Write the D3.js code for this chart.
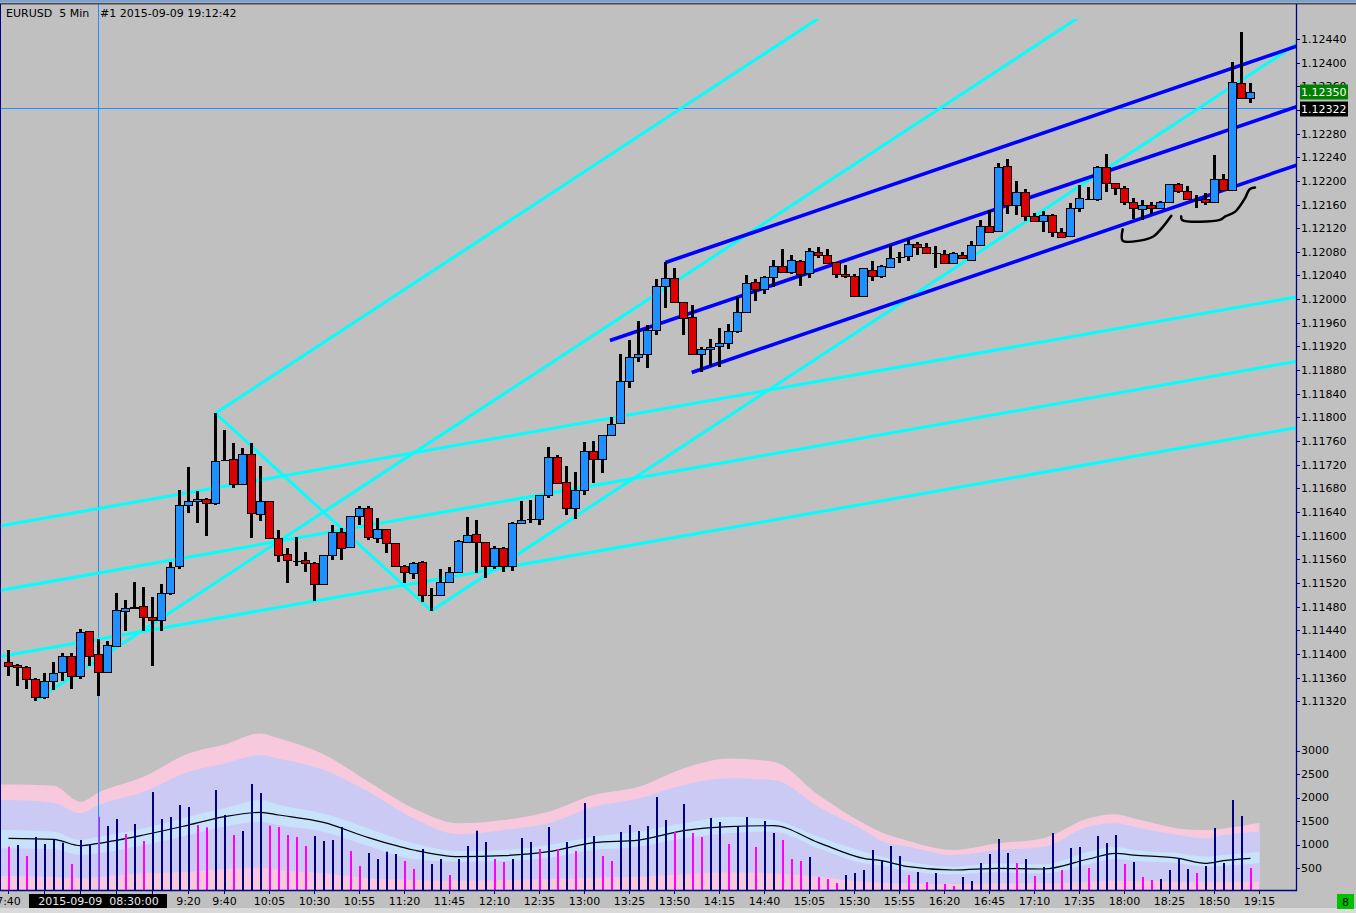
<!DOCTYPE html>
<html>
<head>
<meta charset="utf-8">
<script src="https://cdn.jsdelivr.net/npm/d3@7"></script>
<style>
body { margin: 0; background: #c0c0c0; }
svg { display: block; font-family: "DejaVu Sans", sans-serif; font-size: 11px; }
</style>
</head>
<body>
<svg id="chart" width="1356" height="913"></svg>
<script>
// EURUSD M5, 2015-09-09, bar 0 = 07:40, bar 138 = 19:10
var open = [1.11386,1.11382,1.11377,1.11358,1.11327,1.11355,1.11369,1.11396,1.11363,1.11438,
 1.11399,1.11369,1.11414,1.11472,1.11478,1.11481,1.11462,1.11457,1.11503,1.11548,
 1.11651,1.11658,1.11662,1.11656,1.11728,1.11729,1.11687,1.11738,1.11637,1.11658,
 1.11596,1.11569,1.11557,1.11558,1.11554,1.11518,1.11567,1.11607,1.11580,1.11633,
 1.11646,1.11596,1.11611,1.11587,1.11548,1.11536,1.11555,1.11500,1.11499,1.11522,
 1.11539,1.11590,1.11602,1.11589,1.11548,1.11579,1.11548,1.11621,1.11629,1.11628,
 1.11668,1.11733,1.11690,1.11646,1.11678,1.11744,1.11729,1.11770,1.11790,1.11861,
 1.11902,1.11908,1.11947,1.12022,1.12035,1.11995,1.11969,1.11907,1.11915,1.11920,
 1.11925,1.11946,1.11978,1.12029,1.12018,1.12037,1.12056,1.12046,1.12064,1.12044,
 1.12079,1.12074,1.12062,1.12043,1.12039,1.12005,1.12050,1.12039,1.12054,1.12071,
 1.12073,1.12093,1.12088,1.12078,1.12076,1.12061,1.12074,1.12067,1.12091,1.12123,
 1.12116,1.12225,1.12159,1.12181,1.12140,1.12133,1.12142,1.12113,1.12106,1.12154,
 1.12170,1.12169,1.12223,1.12196,1.12188,1.12165,1.12152,1.12160,1.12154,1.12165,
 1.12194,1.12183,1.12168,1.12169,1.12164,1.12203,1.12185,1.12365,1.12341];
var high = [1.11407,1.11383,1.11380,1.11359,1.11367,1.11386,1.11401,1.11401,1.11442,1.11439,
 1.11426,1.11421,1.11503,1.11491,1.11522,1.11513,1.11496,1.11518,1.11555,1.11678,
 1.11716,1.11676,1.11664,1.11807,1.11779,1.11757,1.11748,1.11757,1.11718,1.11659,
 1.11610,1.11579,1.11598,1.11572,1.11555,1.11567,1.11618,1.11613,1.11634,1.11650,
 1.11650,1.11630,1.11612,1.11588,1.11550,1.11556,1.11557,1.11511,1.11544,1.11547,
 1.11592,1.11632,1.11627,1.11590,1.11583,1.11580,1.11623,1.11659,1.11660,1.11669,
 1.11750,1.11737,1.11718,1.11708,1.11758,1.11760,1.11771,1.11801,1.11907,1.11931,
 1.11963,1.11956,1.12034,1.12062,1.12052,1.11996,1.11990,1.11919,1.11933,1.11951,
 1.11958,1.12003,1.12041,1.12034,1.12039,1.12066,1.12085,1.12075,1.12066,1.12086,
 1.12088,1.12085,1.12063,1.12058,1.12043,1.12053,1.12065,1.12058,1.12092,1.12080,
 1.12102,1.12096,1.12095,1.12090,1.12083,1.12079,1.12079,1.12098,1.12134,1.12151,
 1.12230,1.12237,1.12199,1.12186,1.12145,1.12149,1.12144,1.12120,1.12162,1.12193,
 1.12190,1.12225,1.12245,1.12197,1.12192,1.12171,1.12168,1.12165,1.12166,1.12195,
 1.12196,1.12192,1.12176,1.12179,1.12244,1.12212,1.12401,1.12451,1.12365];
var low = [1.11362,1.11345,1.11341,1.11321,1.11324,1.11339,1.11354,1.11340,1.11357,1.11380,
 1.11329,1.11368,1.11412,1.11438,1.11476,1.11438,1.11380,1.11439,1.11499,1.11544,
 1.11639,1.11622,1.11600,1.11652,1.11726,1.11680,1.11686,1.11596,1.11624,1.11595,
 1.11556,1.11520,1.11549,1.11539,1.11490,1.11517,1.11558,1.11559,1.11579,1.11618,
 1.11592,1.11588,1.11571,1.11547,1.11520,1.11527,1.11487,1.11473,1.11498,1.11521,
 1.11537,1.11589,1.11537,1.11528,1.11543,1.11539,1.11541,1.11620,1.11622,1.11618,
 1.11663,1.11688,1.11635,1.11629,1.11669,1.11689,1.11706,1.11769,1.11789,1.11849,
 1.11893,1.11883,1.11939,1.11985,1.11994,1.11939,1.11906,1.11877,1.11887,1.11886,
 1.11916,1.11942,1.11977,1.11997,1.12009,1.12021,1.12045,1.12043,1.12023,1.12036,
 1.12069,1.12060,1.12036,1.12035,1.12004,1.12004,1.12030,1.12035,1.12052,1.12061,
 1.12065,1.12075,1.12077,1.12052,1.12060,1.12059,1.12068,1.12066,1.12090,1.12112,
 1.12115,1.12144,1.12142,1.12132,1.12131,1.12114,1.12105,1.12104,1.12105,1.12147,
 1.12169,1.12166,1.12181,1.12176,1.12160,1.12136,1.12134,1.12144,1.12153,1.12164,
 1.12179,1.12168,1.12155,1.12159,1.12163,1.12184,1.12184,1.12340,1.12332];
var close = [1.11380,1.11377,1.11358,1.11327,1.11355,1.11367,1.11396,1.11362,1.11437,1.11397,
 1.11369,1.11415,1.11474,1.11477,1.11480,1.11462,1.11457,1.11503,1.11547,1.11651,
 1.11658,1.11662,1.11655,1.11726,1.11728,1.11687,1.11738,1.11638,1.11658,1.11596,
 1.11567,1.11558,1.11557,1.11553,1.11518,1.11567,1.11607,1.11579,1.11633,1.11646,
 1.11597,1.11611,1.11587,1.11548,1.11538,1.11554,1.11499,1.11500,1.11522,1.11539,
 1.11591,1.11601,1.11590,1.11548,1.11579,1.11548,1.11621,1.11626,1.11629,1.11668,
 1.11733,1.11689,1.11646,1.11678,1.11744,1.11729,1.11770,1.11789,1.11861,1.11902,
 1.11908,1.11947,1.12022,1.12035,1.11995,1.11968,1.11907,1.11915,1.11919,1.11925,
 1.11946,1.11978,1.12027,1.12018,1.12037,1.12056,1.12046,1.12066,1.12042,1.12081,
 1.12074,1.12061,1.12043,1.12039,1.12006,1.12052,1.12039,1.12056,1.12069,1.12071,
 1.12093,1.12089,1.12078,1.12078,1.12061,1.12078,1.12069,1.12091,1.12123,1.12113,
 1.12223,1.12159,1.12181,1.12140,1.12132,1.12142,1.12113,1.12105,1.12155,1.12171,
 1.12170,1.12223,1.12196,1.12188,1.12164,1.12154,1.12160,1.12155,1.12165,1.12194,
 1.12183,1.12169,1.12168,1.12164,1.12203,1.12185,1.12367,1.12341,1.12350];

var volume = [954,989,755,1159,1010,1110,1039,585,1095,1010,
 1592,1393,1542,1223,1436,1074,2116,1542,1585,1840,
 1797,1414,1365,2159,1627,1202,1287,2287,2095,1400,
 1372,1202,1159,968,1180,1074,1095,1372,861,542,
 819,691,847,798,649,479,904,585,691,351,
 691,968,1294,1053,691,627,691,1138,1053,904,
 1372,904,1053,861,1882,1180,755,649,1266,1414,
 1287,1393,2010,1521,1266,1861,1244,1159,1563,1478,
 1010,1393,1585,947,1500,1244,1095,691,649,734,
 308,266,181,351,393,457,883,663,968,755,
 351,415,202,393,160,117,308,223,606,798,
 1117,819,606,691,330,521,1244,457,925,947,
 500,1180,1032,1202,585,627,308,245,266,457,
 713,479,393,542,1351,606,1946,1606,500];
// n = navy bar, m = magenta bar
var volColor = ("mnmnnnnmnn" + "mnnmnmnnnn" + "nmmnnmnnnm" + "mmmmnnnnmm" + "nnnnmmnnnm" +
 "nnnnmmnnnm" + "nmnmnnmmnn" + "nnnnmnmmnn" + "mnnmnnmmmn" + "mmmnnnnnnn" +
 "mnmnmmnnnn" + "nnmnmnnmnn" + "mnnnmnmmnn" + "nnmnnnnnm").split("");

// volume band indicator, sampled by bar index
var bandIdx = [-1,0,5,8,10,15,20,24,28,30,35,40,45,50,55,60,65,70,75,80,85,90,95,97,100,105,110,115,120,123,125,130,133,135,139];
var bandOuterUp = [2279,2279,2251,1911,2109,2442,2938,3130,3364,3258,2918,2336,1769,1450,1521,1698,2052,2230,2619,2832,2761,2052,1450,1258,1074,883,1024,1131,1556,1641,1556,1343,1308,1343,1464];
var bandMidUp = [1946,1946,1890,1663,1840,2122,2548,2726,2903,2832,2584,2122,1556,1216,1308,1450,1804,1981,2265,2407,2372,1804,1308,1074,954,776,883,954,1379,1450,1379,1202,1131,1202,1273];
var bandInnerUp = [1308,1308,1273,1095,1166,1343,1592,1769,1946,1840,1662,1343,1024,861,883,989,1166,1273,1450,1592,1521,1166,847,741,635,528,599,578,847,954,883,812,741,776,847];
var bandInnerLo = [918,918,897,776,812,989,1202,1379,1485,1414,1273,968,691,635,649,720,883,954,1131,1237,1273,918,599,549,436,365,408,386,578,691,656,599,528,549,599];
var bandMidLo = [330,330,316,280,308,386,422,479,507,457,386,280,245,230,245,266,294,316,365,408,386,316,209,188,174,152,174,174,209,230,223,209,195,209,209];
var maIdx = [0,5,8,10,15,20,24,28,30,35,40,45,50,55,60,65,70,75,80,85,90,95,97,100,105,110,115,120,123,125,130,133,135,138];
var maVal = [1131,1110,975,1025,1202,1414,1592,1684,1627,1471,1145,883,741,762,847,1039,1095,1294,1379,1400,1039,705,656,528,457,493,479,691,812,776,705,599,656,705];

// drawn objects: [bar index, price]
var forkP0 = [3, 1.11321], forkP1 = [23, 1.11807], forkP2 = [47, 1.11473];
var flatLines = [[[0, 1.11619], [138, 1.11990]], [[0, 1.11510], [138, 1.11881]], [[0, 1.11398], [138, 1.11769]]];
var channelLines = [[[73, 1.12062], [138, 1.12401]], [[66.83, 1.11930], [138, 1.12299]], [[75.91, 1.11876], [138, 1.12200]]];
var handCurves = [
 [[123.8,1.12118],[123.8,1.12099],[125.7,1.12099],[127.2,1.12106],[128.3,1.12123],[129.2,1.12141]],
 [[130.3,1.12140],[130.4,1.12134],[134.6,1.12134],[135.2,1.12140],[136.3,1.12148],[137.4,1.12171],[137.9,1.12186],[138.5,1.12189]]
];

var priceTicks = [1.12440,1.12400,1.12360,1.12320,1.12280,1.12240,1.12200,1.12160,1.12120,1.12080,1.12040,1.12000,
 1.11960,1.11920,1.11880,1.11840,1.11800,1.11760,1.11720,1.11680,1.11640,1.11600,1.11560,1.11520,1.11480,1.11440,1.11400,1.11360,1.11320];
var volTicks = [500, 1000, 1500, 2000, 2500, 3000];
// time labels; the ticks at bars 4, 8, 12, 16 sit under the crosshair date box
var timeIdx = [0,20,24,29,34,39,44,49,54,59,64,69,74,79,84,89,94,99,104,109,114,119,124,129,134,139];
var timeLbl = ["7:40","9:20","9:40","10:05","10:30","10:55","11:20","11:45","12:10","12:35","13:00",
 "13:25","13:50","14:15","14:40","15:05","15:30","15:55","16:20","16:45","17:10","17:35","18:00","18:25","18:50","19:15"];
var hiddenTickIdx = [4, 8, 12, 16];
var bidPrice = 1.12350, crossPrice = 1.12322, crossBar = 10;

var axisX = 1296;
var svg = d3.select("#chart");
var x = d3.scaleLinear().domain([0, 138]).range([8.5, 1250.5]);
var y = d3.scaleLinear().domain([1.12440, 1.11320]).range([39, 701.2]);
var yv = d3.scaleLinear().domain([0, 3000]).range([891.5, 750.5]);
var fmt = d3.format(".5f");

var defs = svg.append("defs");
defs.append("clipPath").attr("id", "clipMain").append("rect")
    .attr("x", 0).attr("y", 19).attr("width", axisX).attr("height", 706);
defs.append("clipPath").attr("id", "clipVol").append("rect")
    .attr("x", 0).attr("y", 705).attr("width", axisX).attr("height", 185.5);

svg.append("rect").attr("width", 1356).attr("height", 913).attr("fill", "#c0c0c0");

// ---- volume window ----
var gV = svg.append("g").attr("clip-path", "url(#clipVol)");
var bands = bandIdx.map(function(b, k){
    return {i: b, u3: bandOuterUp[k], u2: bandMidUp[k], u1: bandInnerUp[k], l1: bandInnerLo[k], l2: bandMidLo[k]};
});
function band(top, bottom){
    return d3.area().curve(d3.curveMonotoneX)
        .x(function(d){ return x(d.i); })
        .y0(function(d){ return bottom ? yv(d[bottom]) : yv(0); })
        .y1(function(d){ return yv(d[top]); });
}
gV.append("path").datum(bands).attr("d", band("u3", null)).attr("fill", "#f8c8dc");
gV.append("path").datum(bands).attr("d", band("u2", "l2")).attr("fill", "#cbcaf4");
gV.append("path").datum(bands).attr("d", band("u1", "l1")).attr("fill", "#c8e2fc");

// crosshair (behind marks)
svg.append("line").attr("x1", x(crossBar)).attr("x2", x(crossBar)).attr("y1", 4).attr("y2", 890)
    .attr("stroke", "#1e90ff").attr("stroke-width", 1);
svg.append("line").attr("x1", 0).attr("x2", axisX).attr("y1", Math.round(y(crossPrice)) - 0.5).attr("y2", Math.round(y(crossPrice)) - 0.5)
    .attr("stroke", "#1e90ff").attr("stroke-width", 1);

gV.append("path").datum(maIdx.map(function(b, k){ return [b, maVal[k]]; }))
    .attr("d", d3.line().curve(d3.curveMonotoneX).x(function(d){ return x(d[0]); }).y(function(d){ return yv(d[1]); }))
    .attr("fill", "none").attr("stroke", "#000").attr("stroke-width", 1.2);

var bars = open.map(function(o, i){
    return {i: i, o: o, h: high[i], l: low[i], c: close[i], v: volume[i], col: volColor[i]};
});
gV.selectAll(".vbar").data(bars).enter().append("rect")
    .attr("x", function(d){ return x(d.i) - 0.5; })
    .attr("width", 2)
    .attr("y", function(d){ return yv(d.v); })
    .attr("height", function(d){ return yv(0) - yv(d.v); })
    .attr("fill", function(d){ return d.col === "m" ? "#ff00ff" : "#000080"; });

// ---- main window objects ----
var gM = svg.append("g").attr("clip-path", "url(#clipMain)");
var seg = d3.line().x(function(d){ return x(d[0]); }).y(function(d){ return y(d[1]); });
function ray(a, b, iFrom, iTo){
    var k = (b[1] - a[1]) / (b[0] - a[0]);
    return [[iFrom, a[1] + k * (iFrom - a[0])], [iTo, a[1] + k * (iTo - a[0])]];
}
var cyanLines = flatLines.map(function(l){ return ray(l[0], l[1], -3, 160); });
var mid = [(forkP1[0] + forkP2[0]) / 2, (forkP1[1] + forkP2[1]) / 2];
var slope = (mid[1] - forkP0[1]) / (mid[0] - forkP0[0]);
[forkP0, forkP1, forkP2].forEach(function(p){
    cyanLines.push([p, [200, p[1] + slope * (200 - p[0])]]);
});
cyanLines.push([forkP1, forkP2]);
gM.selectAll(".cyan").data(cyanLines).enter().append("path")
    .attr("d", seg).attr("fill", "none").attr("stroke", "#00ffff").attr("stroke-width", 3);
gM.selectAll(".chan").data(channelLines.map(function(l){ return ray(l[0], l[1], l[0][0], 160); }))
    .enter().append("path")
    .attr("d", seg).attr("fill", "none").attr("stroke", "#0000ff").attr("stroke-width", 3.6);

// candles
var gK = svg.append("g").attr("shape-rendering", "crispEdges");
gK.selectAll(".wick").data(bars).enter().append("rect")
    .attr("x", function(d){ return x(d.i) - 1.5; })
    .attr("width", 3)
    .attr("y", function(d){ return Math.round(y(d.h)); })
    .attr("height", function(d){ return Math.max(1, Math.round(y(d.l)) - Math.round(y(d.h))); })
    .attr("fill", "#000");
var bodies = bars.filter(function(d){ return d.o !== d.c; });
gK.selectAll(".body").data(bodies).enter().append("rect")
    .attr("x", function(d){ return x(d.i) - 4; })
    .attr("width", 8)
    .attr("y", function(d){ return Math.round(y(Math.max(d.o, d.c))) + 0.5; })
    .attr("height", function(d){ return Math.max(1, Math.round(y(Math.min(d.o, d.c))) - Math.round(y(Math.max(d.o, d.c)))); })
    .attr("fill", function(d){ return d.c > d.o ? "#1e90ff" : "#dd0000"; })
    .attr("stroke", "#000").attr("stroke-width", 1);
gK.selectAll(".doji").data(bars.filter(function(d){ return d.o === d.c; })).enter().append("line")
    .attr("x1", function(d){ return x(d.i) - 4; })
    .attr("x2", function(d){ return x(d.i) + 5; })
    .attr("y1", function(d){ return Math.round(y(d.o)) + 0.5; })
    .attr("y2", function(d){ return Math.round(y(d.o)) + 0.5; })
    .attr("stroke", "#000").attr("stroke-width", 1);

// hand drawn strokes
svg.selectAll(".hand").data(handCurves).enter().append("path")
    .attr("d", d3.line().curve(d3.curveCatmullRom).x(function(d){ return x(d[0]); }).y(function(d){ return y(d[1]); }))
    .attr("fill", "none").attr("stroke", "#000").attr("stroke-width", 2.5).attr("stroke-linecap", "round");

// ---- frame and axes ----
svg.append("rect").attr("x", 0).attr("y", 0).attr("width", 1356).attr("height", 2.5).attr("fill", "#7f9fd0");
svg.append("rect").attr("x", 0).attr("y", 3).attr("width", 1356).attr("height", 1.5).attr("fill", "#4a4a4a");
svg.append("line").attr("x1", 0.5).attr("x2", 0.5).attr("y1", 4).attr("y2", 891).attr("stroke", "#000080");
svg.append("line").attr("x1", axisX + 0.5).attr("x2", axisX + 0.5).attr("y1", 4).attr("y2", 891).attr("stroke", "#000080").attr("stroke-width", 1.3);
svg.append("line").attr("x1", 0).attr("x2", axisX + 1).attr("y1", 890.5).attr("y2", 890.5).attr("stroke", "#000080").attr("stroke-width", 1.3);

var gP = svg.append("g");
gP.selectAll(".ptick").data(priceTicks).enter().append("line")
    .attr("x1", axisX).attr("x2", axisX + 4)
    .attr("y1", function(d){ return Math.round(y(d)) + 0.5; })
    .attr("y2", function(d){ return Math.round(y(d)) + 0.5; })
    .attr("stroke", "#000080");
gP.selectAll(".plbl").data(priceTicks).enter().append("text")
    .attr("x", axisX + 5).attr("y", function(d){ return y(d); }).attr("dy", "0.36em")
    .attr("fill", "#000").text(function(d){ return fmt(d); });

var gVA = svg.append("g");
gVA.selectAll(".vtick").data(volTicks).enter().append("line")
    .attr("x1", axisX).attr("x2", axisX + 4)
    .attr("y1", function(d){ return Math.round(yv(d)) + 0.5; })
    .attr("y2", function(d){ return Math.round(yv(d)) + 0.5; })
    .attr("stroke", "#000080");
gVA.selectAll(".vlbl").data(volTicks).enter().append("text")
    .attr("x", axisX + 5).attr("y", function(d){ return yv(d); }).attr("dy", "0.36em")
    .attr("fill", "#000").text(function(d){ return d; });

// price boxes
function priceBox(p, fill){
    var yy = Math.round(y(p));
    svg.append("rect").attr("x", axisX + 4).attr("y", yy - 7.5).attr("width", 48).attr("height", 15).attr("fill", fill);
    svg.append("text").attr("x", axisX + 5).attr("y", yy).attr("dy", "0.36em").attr("fill", "#fff").text(fmt(p));
}
priceBox(bidPrice, "#008000");
priceBox(crossPrice, "#000000");

// time axis
var gT = svg.append("g");
gT.selectAll(".ttick").data(timeIdx.concat(hiddenTickIdx)).enter().append("line")
    .attr("x1", function(d){ return x(d); }).attr("x2", function(d){ return x(d); })
    .attr("y1", 890).attr("y2", 894).attr("stroke", "#000080");
gT.selectAll(".tlbl").data(timeIdx).enter().append("text")
    .attr("x", function(d){ return x(d); }).attr("y", 905).attr("text-anchor", "middle")
    .attr("fill", "#000").text(function(d, k){ return timeLbl[k]; });

svg.append("rect").attr("x", 29).attr("y", 894).attr("width", 138).attr("height", 14).attr("fill", "#000");
svg.append("text").attr("x", x(crossBar)).attr("y", 905).attr("text-anchor", "middle")
    .attr("fill", "#e8e8e8").style("white-space", "pre").text("2015-09-09  08:30:00");

svg.append("rect").attr("x", 0).attr("y", 908).attr("width", 1356).attr("height", 5).attr("fill", "#dadada");
svg.append("rect").attr("x", 1337).attr("y", 894).attr("width", 17).attr("height", 15).attr("fill", "#00c000");
svg.append("text").attr("x", 1345.5).attr("y", 905.5).attr("text-anchor", "middle").attr("fill", "#000").text("8");

// title
svg.append("text").attr("x", 6).attr("y", 17).attr("fill", "#000").style("white-space", "pre").text("EURUSD  5 Min");
svg.append("text").attr("x", 100).attr("y", 17).attr("fill", "#000").text("#1 2015-09-09 19:12:42");
</script>
</body>
</html>
